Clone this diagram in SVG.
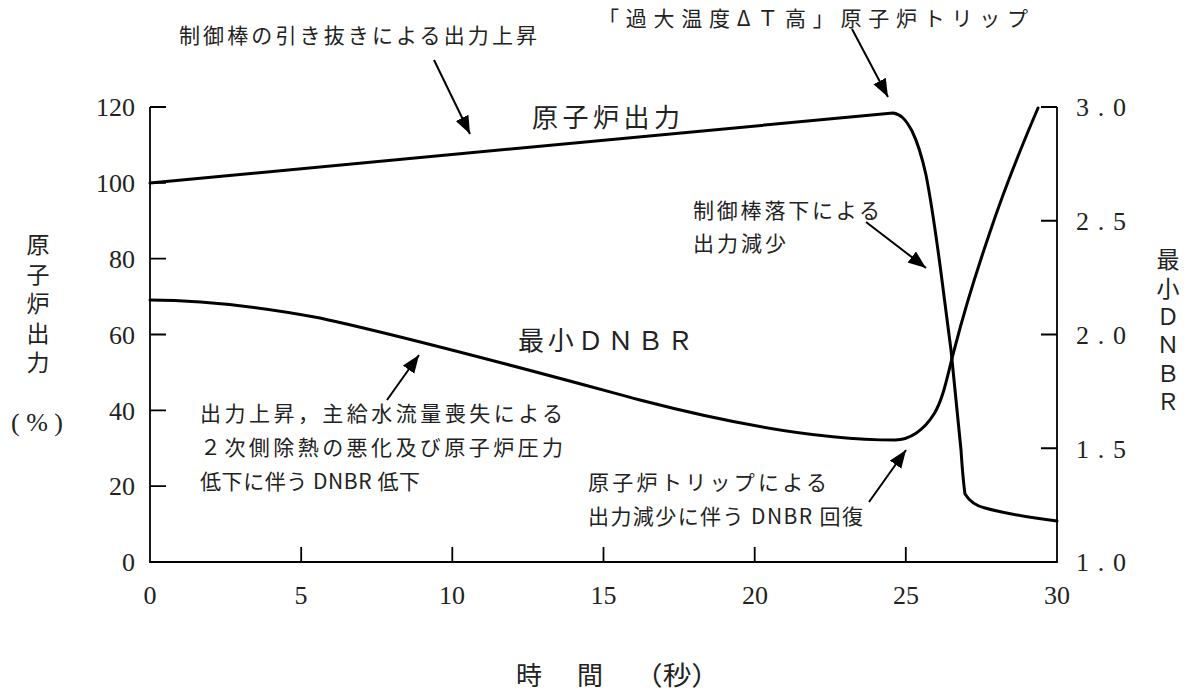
<svg xmlns="http://www.w3.org/2000/svg" width="1195" height="695" viewBox="0 0 1195 695">
<style>
.ax{stroke:#000;stroke-width:1.8;fill:none}
.cv{stroke:#000;stroke-width:3;fill:none;stroke-linejoin:round;stroke-linecap:round}
.ar{stroke:#000;stroke-width:2;fill:none}
.num{font-family:"Liberation Serif",serif;font-size:26px;fill:#222}
.jp{font-family:"Noto Sans CJK JP",sans-serif;font-size:21px;fill:#222}
.lb{font-family:"Noto Sans CJK JP",sans-serif;font-size:26px;fill:#222}
.vt{font-family:"Noto Sans CJK JP",sans-serif;font-size:23px;fill:#222;writing-mode:vertical-rl}
.tt{font-family:"Noto Sans CJK JP",sans-serif;font-size:26px;fill:#222;text-anchor:middle}
</style>
<defs>
<marker id="ah" markerUnits="userSpaceOnUse" markerWidth="20" markerHeight="16" refX="18" refY="7" orient="auto">
<path d="M0,0 L18,7 L0,14 Z" fill="#000"/>
</marker>
</defs>
<g id="axes">
<path class="ax" d="M150,107 V562 H1057 V107"/>
<path class="ax" d="M150,107 H166 M150,182.8 H166 M150,258.7 H166 M150,334.5 H166 M150,410.3 H166 M150,486.2 H166"/>
<path class="ax" d="M301.2,562 V547 M452.3,562 V547 M603.5,562 V547 M754.7,562 V547 M905.8,562 V547"/>
<path class="ax" d="M1057,107 H1041 M1057,220.75 H1041 M1057,334.5 H1041 M1057,448.25 H1041"/>
</g>
<g id="tick-labels">
<text class="num" x="135" y="116" text-anchor="end">120</text>
<text class="num" x="135" y="192" text-anchor="end">100</text>
<text class="num" x="135" y="268" text-anchor="end">80</text>
<text class="num" x="135" y="344" text-anchor="end">60</text>
<text class="num" x="135" y="420" text-anchor="end">40</text>
<text class="num" x="135" y="495" text-anchor="end">20</text>
<text class="num" x="135" y="571" text-anchor="end">0</text>
<text class="num" x="150" y="604" text-anchor="middle">0</text>
<text class="num" x="301" y="604" text-anchor="middle">5</text>
<text class="num" x="452" y="604" text-anchor="middle">10</text>
<text class="num" x="603.5" y="604" text-anchor="middle">15</text>
<text class="num" x="755" y="604" text-anchor="middle">20</text>
<text class="num" x="906" y="604" text-anchor="middle">25</text>
<text class="num" x="1057" y="604" text-anchor="middle">30</text>
<text class="num" x="1076" y="116" textLength="50" lengthAdjust="spacing">3.0</text>
<text class="num" x="1076" y="230" textLength="50" lengthAdjust="spacing">2.5</text>
<text class="num" x="1076" y="344" textLength="50" lengthAdjust="spacing">2.0</text>
<text class="num" x="1076" y="458" textLength="50" lengthAdjust="spacing">1.5</text>
<text class="num" x="1076" y="571" textLength="50" lengthAdjust="spacing">1.0</text>
</g>
<g id="axis-titles">
<text class="vt" x="38" y="233" style="letter-spacing:6.5px">原子炉出力</text>
<text class="num" x="11" y="431" textLength="52" lengthAdjust="spacing">(%)</text>
<text class="vt" x="1168" y="248" style="letter-spacing:5.5px">最小ＤＮＢＲ</text>
<text class="tt"><tspan x="529" y="685">時</tspan><tspan x="590" y="685">間</tspan></text>
<text class="tt" style="text-anchor:start" x="634" y="685" textLength="86" lengthAdjust="spacingAndGlyphs">（秒）</text>
</g>
<g id="curve-power">
<path class="cv" d="M150,183 L893,113 C900,114 905,118 912,131 C918,143 922,157 926,175 C930,195 935,228 940,265 C944,295 948,325 951,350 C954,380 957,410 961,450 C962,465 963,480 965,494 C970,502 976,506 985,508 C1000,512 1025,517 1057,521"/>
</g>
<g id="curve-dnbr">
<path class="cv" d="M150,300 C200,300 250,305 320,318 C420,340 540,373 640,400 C740,426 830,440 895,440 C910,440 924,430 934,414 C944,398 948,372 955,347 C964,312 977,270 990,232 C1004,190 1020,150 1038,108"/>
</g>
<g id="curve-labels">
<text class="lb" x="532" y="127" textLength="148" lengthAdjust="spacing">原子炉出力</text>
<text class="lb" x="518" y="350" textLength="175" lengthAdjust="spacing">最小ＤＮＢＲ</text>
</g>
<g id="connectors">
<line class="ar" x1="434" y1="60" x2="470" y2="134" marker-end="url(#ah)"/>
<line class="ar" x1="852" y1="29" x2="888" y2="97" marker-end="url(#ah)"/>
<line class="ar" x1="866" y1="222" x2="926" y2="268" marker-end="url(#ah)"/>
<line class="ar" x1="387" y1="400" x2="419" y2="355" marker-end="url(#ah)"/>
<line class="ar" x1="869" y1="502" x2="906" y2="450" marker-end="url(#ah)"/>
</g>
<g id="annotations">
<text class="jp" x="179" y="43" textLength="358" lengthAdjust="spacing">制御棒の引き抜きによる出力上昇</text>
<text class="jp" x="598" y="26" textLength="430" lengthAdjust="spacing">「過大温度ΔＴ高」原子炉トリップ</text>
<text class="jp" x="693" y="218" textLength="187" lengthAdjust="spacing">制御棒落下による</text>
<text class="jp" x="693" y="251" textLength="93" lengthAdjust="spacing">出力減少</text>
<text class="jp" x="200" y="421" textLength="363" lengthAdjust="spacing">出力上昇，主給水流量喪失による</text>
<text class="jp" x="200" y="455" textLength="363" lengthAdjust="spacing">２次側除熱の悪化及び原子炉圧力</text>
<text class="jp" x="200" y="489" textLength="220" lengthAdjust="spacing">低下に伴う DNBR 低下</text>
<text class="jp" x="588" y="490" textLength="239" lengthAdjust="spacing">原子炉トリップによる</text>
<text class="jp" x="588" y="524" textLength="275" lengthAdjust="spacing">出力減少に伴う DNBR 回復</text>
</g>
</svg>
